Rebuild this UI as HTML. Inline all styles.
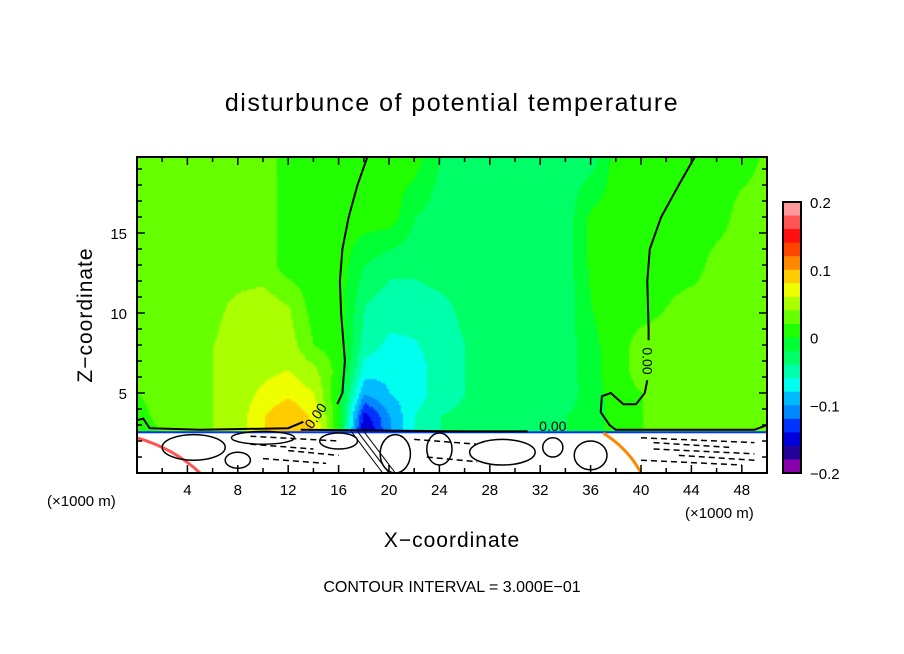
<!DOCTYPE html>
<html><head><meta charset="utf-8"><style>
body{margin:0;background:#fff;width:904px;height:654px;overflow:hidden;position:relative;font-family:"Liberation Sans",sans-serif}
#field{position:absolute;left:137px;top:157px}
#ov{position:absolute;left:0;top:0}
</style></head><body>
<canvas id="field" width="630" height="316"></canvas>
<svg id="ov" width="904" height="654"></svg>
<script>
const xCoords=[0,2,4,6,8,10,12,14,16,18,20,22,24,26,28,30,32,34,36,38,40,42,44,46,48,50];
const zLevels=[2.6,3.6,5,6.5,8,10.5,13,16,19.8];
const fieldRows=[
[.01,.02,.03,.04,.05,.08,.1,.08,.0,-.17,-.1,-.06,-.04,-.03,-.03,-.03,-.03,-.02,-.01,.01,.02,.03,.04,.04,.03,.02],
[.01,.03,.035,.04,.05,.08,.1,.075,.0,-.15,-.1,-.06,-.04,-.035,-.03,-.03,-.03,-.02,-.01,.01,.02,.03,.04,.04,.03,.02],
[.02,.03,.035,.04,.05,.065,.075,.06,.0,-.1,-.08,-.07,-.05,-.04,-.03,-.03,-.03,-.03,-.01,.01,.02,.03,.03,.03,.03,.03],
[.03,.03,.035,.04,.05,.055,.06,.045,.01,-.07,-.075,-.07,-.05,-.04,-.03,-.03,-.03,-.03,-.005,.01,.03,.03,.03,.03,.03,.03],
[.03,.03,.03,.04,.05,.055,.05,.02,.01,-.05,-.065,-.062,-.05,-.04,-.03,-.03,-.03,-.03,-.005,.01,.03,.03,.03,.03,.03,.03],
[.03,.03,.03,.035,.045,.05,.04,.01,.01,-.04,-.05,-.05,-.045,-.035,-.03,-.03,-.03,-.03,.0,.01,.01,.02,.03,.03,.03,.03],
[.03,.03,.03,.03,.03,.03,.01,.01,.01,-.02,-.035,-.035,-.03,-.03,-.03,-.03,-.03,-.03,.005,.01,.01,.01,.01,.03,.03,.03],
[.03,.03,.03,.03,.03,.03,.01,.01,.01,.01,.01,-.02,-.03,-.03,-.03,-.03,-.03,-.03,.005,.01,.01,.01,.01,.01,.03,.03],
[.03,.03,.03,.03,.03,.03,.01,.01,.01,.01,.01,.01,-.02,-.03,-.03,-.03,-.03,-.03,-.03,.01,.01,.01,.01,.01,.01,.025]
];
const palette=["#ff9999","#ff5555","#ff1111","#ff4400","#ff8800","#ffcc00","#eeff00","#aaff00","#66ff00","#22ff00","#00ff33","#00ff66","#00ffaa","#00ffee","#00bbff","#0088ff","#0033ff","#0000dd","#220099","#8800aa"];
const cbLabels=["0.2","0.1","0","\u22120.1","\u22120.2"];
const cbValues=[0.2,0.1,0,-0.1,-0.2];
const xTickLabels=[4,8,12,16,20,24,28,32,36,40,44,48];
const yTickLabels=[5,10,15];
const zeroLeft=[[18.3,19.8],[17.5,18],[16.8,16],[16.3,14],[16.1,12],[16.2,10],[16.5,7],[16.3,5],[15.9,4.3]];
const zeroLeftLow=[[13.2,3.2],[12,2.8],[5,2.7],[1,2.8],[0.5,3.4],[0,3.3]];
const zeroRight=[[44.3,19.8],[43,18],[41.6,16],[40.7,14],[40.5,12],[40.6,9],[40.6,8.3]];
const zeroRightLow=[[40.5,5.8],[40.3,5],[39.6,4.3],[38.6,4.3],[37.6,5],[36.9,4.8],[36.8,3.8],[37.5,3],[38,2.7],[49,2.7],[50,3]];
const groundLine=[[13,2.7],[20,2.65],[26,2.6],[31,2.6]];

const X0=137,X1=767,Y0=473,Y1=157,XMAX=50,ZMAX=19.75;
const sx=x=>X0+x/XMAX*(X1-X0);
const sy=z=>Y0-z/ZMAX*(Y0-Y1);
function valAt(x,z){
  let zi=0; if(z<=zLevels[0]){zi=0;z=zLevels[0];}
  while(zi<zLevels.length-2&&z>zLevels[zi+1])zi++;
  let tz=Math.min(1,Math.max(0,(z-zLevels[zi])/(zLevels[zi+1]-zLevels[zi])));
  let xi=Math.min(xCoords.length-2,Math.floor(x/2));
  let tx=Math.min(1,Math.max(0,(x-xCoords[xi])/(xCoords[xi+1]-xCoords[xi])));
  const a=fieldRows[zi],b=fieldRows[zi+1];
  const v0=a[xi]*(1-tx)+a[xi+1]*tx, v1=b[xi]*(1-tx)+b[xi+1]*tx;
  return v0*(1-tz)+v1*tz;
}
function colorOf(v){let i=Math.floor((0.2-v)/0.02);i=Math.max(0,Math.min(19,i));return palette[i];}
const cv=document.getElementById('field'),ctx=cv.getContext('2d');
for(let py=0;py<316;py+=2){for(let px=0;px<630;px+=2){
  const x=px/630*XMAX,z=(316-py)/316*ZMAX;
  ctx.fillStyle=colorOf(valAt(x,z));ctx.fillRect(px,py,2,2);}}
ctx.fillStyle="#fff";ctx.fillRect(0,sy(2.5)-157,630,316);

const S=document.getElementById('ov');const NS="http://www.w3.org/2000/svg";
function el(t,a,txt){const e=document.createElementNS(NS,t);for(const k in a)e.setAttribute(k,a[k]);if(txt!==undefined)e.textContent=txt;S.appendChild(e);return e;}
function pts(arr){return arr.map(p=>sx(p[0]).toFixed(1)+","+sy(p[1]).toFixed(1)).join(" ");}

let f=el('polyline',{points:pts([[0,2.55],[50,2.55]]),fill:'none',stroke:'#0033ff','stroke-width':2});


let f1=el('path',{d:`M${sx(0)},${sy(2.2)} Q${sx(3)},${sy(1.5)} ${sx(5)},${sy(0)}`,fill:'none',stroke:'#ff5555','stroke-width':3});


let f2=el('path',{d:`M${sx(37)},${sy(2.5)} Q${sx(39)},${sy(1.5)} ${sx(40)},${sy(0)}`,fill:'none',stroke:'#ff8800','stroke-width':3});


const blobs=[[4.5,1.6,2.5,0.8],[20.5,1.2,1.2,1.2],[29,1.3,2.6,0.8],[36,1.1,1.3,0.9],[16,2,1.5,0.5],[10,2.2,2.5,0.4],[24,1.5,1,1],[33,1.6,0.8,0.6],[8,0.8,1,0.5]];
blobs.forEach(b=>{const e=el('ellipse',{cx:sx(b[0]),cy:sy(b[1]),rx:b[2]*12.6,ry:b[3]*16,fill:'none',stroke:'#000','stroke-width':1.5});

});
const dashes=[[9,14,1.8],[22,27,2.1],[41,49,1.5],[40,48,0.8],[10,15,0.9],[23,27,1.0],[9,16,2.3],[40,49,2.2],[41,47,1.9],[12,16,1.4],[43,49,1.1]];
dashes.forEach(d=>{const e=el('line',{x1:sx(d[0]),y1:sy(d[2]),x2:sx(d[1]),y2:sy(d[2]-0.3),stroke:'#000','stroke-width':1.5,'stroke-dasharray':'6,4'});

});
[[17,19.5],[17.5,20],[18,20.5]].forEach(s=>{const e=el('line',{x1:sx(s[0]),y1:sy(2.6),x2:sx(s[1]),y2:sy(0),stroke:'#000','stroke-width':1});

});

[zeroLeft,zeroLeftLow,zeroRight,zeroRightLow,groundLine].forEach((c,i)=>{const e=el('polyline',{points:pts(c),fill:'none',stroke:'#000','stroke-width':2});

});
let l1=el('text',{x:sx(14.5),y:sy(3.4),'font-size':14,'text-anchor':'middle',transform:`rotate(-55 ${sx(14.5)} ${sy(3.4)})`},'0.00');


let l2=el('text',{x:sx(40.5),y:sy(7),'font-size':14,'text-anchor':'middle',transform:`rotate(90 ${sx(40.5)} ${sy(7)})`,dy:5},'0.00');


let l3=el('text',{x:sx(33),y:sy(2.7)+1,'font-size':14,'text-anchor':'middle'},'0.00');



let fr=el('rect',{x:X0,y:Y1,width:X1-X0,height:Y0-Y1,fill:'none',stroke:'#000','stroke-width':2});


for(let x=2;x<50;x+=2){const L=x%4===0?8:5;
 let t=el('line',{x1:sx(x),y1:Y0,x2:sx(x),y2:Y0-L,stroke:'#000','stroke-width':1.5});
 let t2=el('line',{x1:sx(x),y1:Y1,x2:sx(x),y2:Y1+L,stroke:'#000','stroke-width':1.5});}
for(let z=1;z<20;z++){const L=z%5===0?8:5;
 let t=el('line',{x1:X0,y1:sy(z),x2:X0+L,y2:sy(z),stroke:'#000','stroke-width':1.5});
 let t2=el('line',{x1:X1,y1:sy(z),x2:X1-L,y2:sy(z),stroke:'#000','stroke-width':1.5});}
xTickLabels.forEach(v=>{const t=el('text',{x:sx(v),y:495,'font-size':15,'text-anchor':'middle'},String(v));

});
yTickLabels.forEach(v=>{const t=el('text',{x:127,y:sy(v)+6,'font-size':15,'text-anchor':'end'},String(v));

});

const CB_X=783,CB_W=18,CB_T=202,CB_B=473;
const cbY=v=>CB_B-(v+0.2)/0.4*(CB_B-CB_T);
palette.forEach((c,i)=>{const v=0.2-0.02*i;const r=el('rect',{x:CB_X,y:cbY(v),width:CB_W,height:cbY(v-0.02)-cbY(v)+0.5,fill:c});

});
let cbf=el('rect',{x:CB_X,y:CB_T,width:CB_W,height:CB_B-CB_T,fill:'none',stroke:'#000','stroke-width':2});


cbValues.forEach((v,i)=>{const t=el('text',{x:810,y:cbY(v)+6,'font-size':15},cbLabels[i]);

});

let tt=el('text',{x:452,y:111,'font-size':25,'text-anchor':'middle','letter-spacing':'1.5'},'disturbunce of potential temperature');


let xt=el('text',{x:452,y:547,'font-size':21,'text-anchor':'middle','letter-spacing':'1'},'X\u2212coordinate');


let yt=el('text',{x:92,y:315,'font-size':21,'text-anchor':'middle','letter-spacing':'1',transform:'rotate(-90 92 315)'},'Z\u2212coordinate');


let u1=el('text',{x:47,y:506,'font-size':15},'(\u00d71000 m)');


let u2=el('text',{x:685,y:518,'font-size':15},'(\u00d71000 m)');


let ci=el('text',{x:452,y:592,'font-size':16,'text-anchor':'middle'},'CONTOUR INTERVAL = 3.000E\u221201');


</script>
</body></html>
